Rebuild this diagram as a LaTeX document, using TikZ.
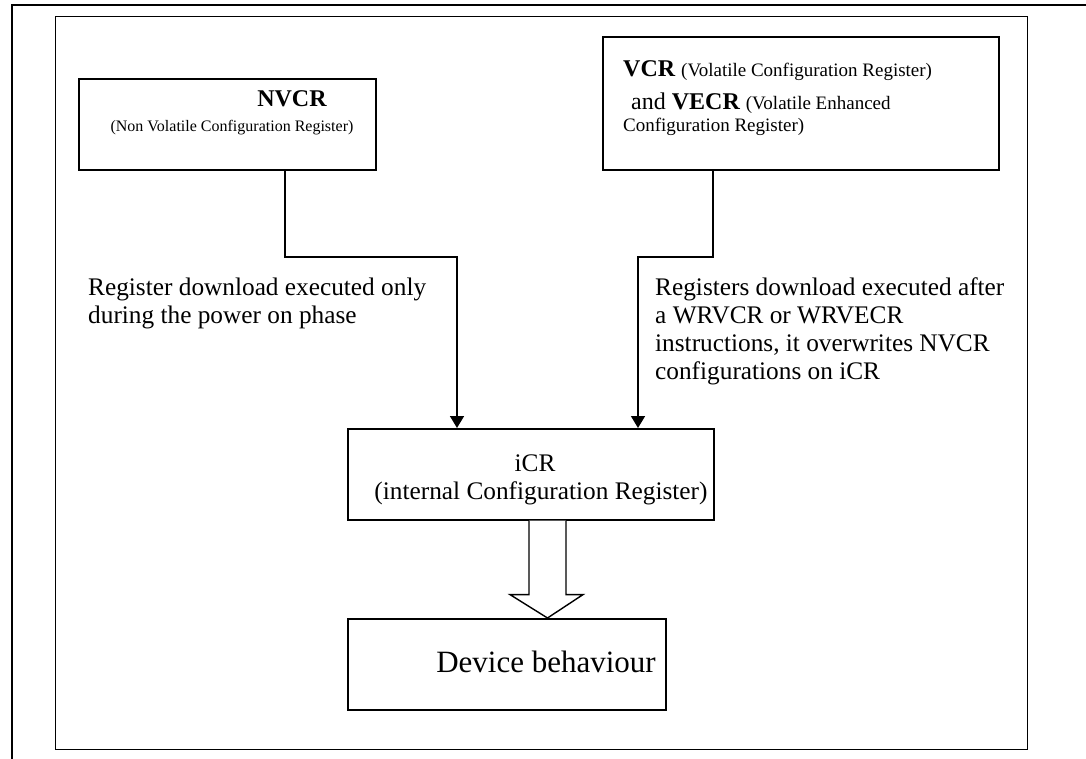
\documentclass[tikz,border=0pt]{standalone}
\usepackage{fontspec}
\setmainfont{Liberation Serif}
\usetikzlibrary{arrows.meta,calc}
\begin{document}
\begin{tikzpicture}[x=1pt,y=-1pt,
  box/.style={draw=black,line width=1.6pt,fill=white,anchor=north west,inner sep=0pt},
  arr/.style={line width=1.6pt,-{Triangle[length=12pt,width=14pt]}},
  big/.style={font=\fontsize{25.3}{28}\selectfont},
  small/.style={font=\fontsize{16}{20}\selectfont},
  txt/.style={inner sep=0pt,align=left}]
\useasboundingbox (0,0) rectangle (1086,759);
% outer frame
\draw[line width=2.4pt] (12,759) -- (12,5) -- (1086,5);
% inner frame
\node[box,line width=1.4pt,minimum width=972pt,minimum height=733pt] (inner) at (55,16) {};
% boxes
\node[box,minimum width=297pt,minimum height=91pt] (nvcr) at (78,78) {};
\node[box,minimum width=396pt,minimum height=133pt] (vcr) at (602,36) {};
\node[box,minimum width=366pt,minimum height=91pt] (icr) at (347,428) {};
\node[box,minimum width=318pt,minimum height=91pt] (dev) at (347,618) {};
% texts
\node[txt,anchor=base,font=\fontsize{24}{28}\selectfont\bfseries] (t1) at (292,107) {NVCR};
\node[txt,small,anchor=base] (t2) at (232,132) {(Non Volatile Configuration Register)};
\node[txt,anchor=base west] (t3) at (623,77) {\fontsize{24}{26}\selectfont\bfseries VCR \fontsize{19}{22}\selectfont\mdseries (Volatile Configuration Register)};
\node[txt,anchor=base west] (t4) at (631,110) {\fontsize{24}{26}\selectfont and \bfseries VECR \fontsize{19}{22}\selectfont\mdseries (Volatile Enhanced};
\node[txt,anchor=base west,font=\fontsize{19}{22}\selectfont] (t5) at (623,132) {Configuration Register)};
\node[txt,big,anchor=base west] (t6) at (88,323) {Register download executed only\\during the power on phase};
\node[txt,big,anchor=base west] (t7) at (655,379) {Registers download executed after\\a WRVCR or WRVECR\\instructions, it overwrites NVCR\\configurations on iCR};
\node[txt,big,anchor=base] (t8) at (535,471) {iCR};
\node[txt,big,anchor=base] (t9) at (541,499) {(internal Configuration Register)};
\node[txt,anchor=base,font=\fontsize{31}{36}\selectfont] (t10) at (546,672) {Device behaviour};
% connectors
\draw[arr] ([xshift=207pt]nvcr.south west) |- ([xshift=110pt,yshift=171pt]icr.north west) -- ([xshift=110pt]icr.north west);
\draw[arr] ([xshift=111pt]vcr.south west) |- ([xshift=291pt,yshift=171pt]icr.north west) -- ([xshift=291pt]icr.north west);
% hollow arrow
\draw[line width=1.4pt,fill=white,line join=miter]
  ([xshift=182pt]icr.south west) -- ([xshift=182pt,yshift=-74pt]icr.south west)
  -- ([xshift=163pt,yshift=-74pt]icr.south west) -- ([xshift=200.5pt]dev.north west)
  -- ([xshift=236pt,yshift=-74pt]icr.south west) -- ([xshift=219pt,yshift=-74pt]icr.south west)
  -- ([xshift=219pt]icr.south west);
\end{tikzpicture}
\end{document}
